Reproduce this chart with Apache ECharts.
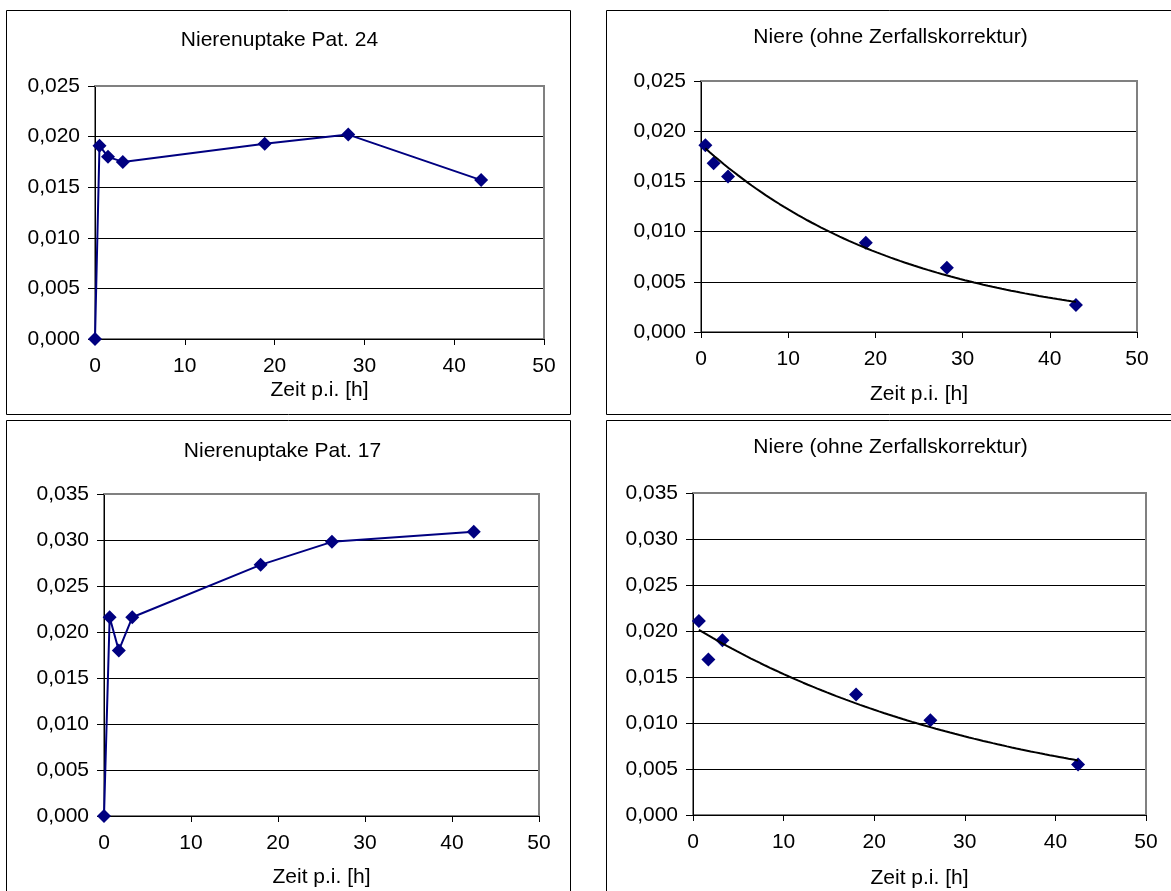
<!DOCTYPE html>
<html>
<head>
<meta charset="utf-8">
<title>Nierenuptake</title>
<script src="https://cdn.jsdelivr.net/npm/echarts@6/dist/echarts.min.js"></script>
<style>
  html, body { margin: 0; padding: 0; background: #fff; }
  #chart { width: 1171px; height: 891px; }
</style>
</head>
<body>
<div id="chart"></div>
<script>
// ---- Data -------------------------------------------------------------
// Patient 24: kidney uptake over time (decay corrected) incl. start value
const hoursPat24 = [0, 0.5, 1.45, 3.1, 18.9, 28.2, 43.0];
const uptakePat24 = [0, 0.0191, 0.0180, 0.0175, 0.0193, 0.0202, 0.0157];
// Patient 24: kidney activity without decay correction
const hoursPat24Raw = [0.5, 1.45, 3.1, 18.9, 28.2, 43.0];
const kidneyPat24Raw = [0.0186, 0.0168, 0.0155, 0.0089, 0.0064, 0.0027];

// Patient 17: kidney uptake over time (decay corrected) incl. start value
const hoursPat17 = [0, 0.65, 1.7, 3.25, 18.0, 26.2, 42.5];
const uptakePat17 = [0, 0.0216, 0.0180, 0.0216, 0.0273, 0.0298, 0.0309];
// Patient 17: kidney activity without decay correction
const hoursPat17Raw = [0.65, 1.7, 3.25, 18.0, 26.2, 42.5];
const kidneyPat17Raw = [0.0211, 0.0169, 0.0190, 0.0131, 0.0103, 0.0055];

// Axis ranges / tick steps
const xTicks = { min: 0, max: 50, step: 10 };
const yTicksPat24 = { min: 0, max: 0.025, step: 0.005 };
const yTicksPat17 = { min: 0, max: 0.035, step: 0.005 };

const titles = ['Nierenuptake Pat. 24', 'Niere (ohne Zerfallskorrektur)',
                'Nierenuptake Pat. 17', 'Niere (ohne Zerfallskorrektur)'];
const xAxisTitle = 'Zeit p.i. [h]';

// ---- Helpers ----------------------------------------------------------
const FONT_FAMILY = '"Liberation Sans", Arial, sans-serif';
const FONT_SIZE = 21;
const NAVY = '#000080';

const pairs = (xs, ys) => xs.map((x, i) => [x, ys[i]]);

// Exponential trend line y = a * e^(b x), least squares on ln(y)
function expTrend(xs, ys, steps) {
  const n = xs.length;
  const ly = ys.map(Math.log);
  const mx = xs.reduce((s, v) => s + v, 0) / n;
  const my = ly.reduce((s, v) => s + v, 0) / n;
  let sxx = 0, sxy = 0;
  for (let i = 0; i < n; i++) {
    sxx += (xs[i] - mx) * (xs[i] - mx);
    sxy += (xs[i] - mx) * (ly[i] - my);
  }
  const b = sxy / sxx;
  const a = Math.exp(my - b * mx);
  const x0 = Math.min(...xs), x1 = Math.max(...xs);
  const pts = [];
  for (let i = 0; i <= steps; i++) {
    const x = x0 + (x1 - x0) * i / steps;
    pts.push([x, a * Math.exp(b * x)]);
  }
  return pts;
}

const fmtY = v => v.toFixed(3).replace('.', ',');

// Panel layout (plot rectangles and frames)
const panels = [
  { grid: { left: 95,  top: 86,  width: 449, height: 253 }, frame: [6.5, 10.5, 564, 404],   title: [279.5, 40],  nameGap: 41, y: yTicksPat24 },
  { grid: { left: 701, top: 81,  width: 436, height: 251 }, frame: [606.5, 10.5, 580, 404], title: [890.5, 37],  nameGap: 52, y: yTicksPat24 },
  { grid: { left: 104, top: 494, width: 435, height: 322 }, frame: [6.5, 420.5, 564, 490],  title: [282.5, 451], nameGap: 51, y: yTicksPat17 },
  { grid: { left: 693, top: 493, width: 453, height: 322 }, frame: [606.5, 420.5, 580, 490], title: [890.5, 447], nameGap: 53, y: yTicksPat17 }
];

const textStyle = { color: '#000', fontFamily: FONT_FAMILY, fontSize: FONT_SIZE };

const grids = panels.map(p => Object.assign({
  show: true, backgroundColor: '#fff', borderColor: '#808080', borderWidth: 2
}, p.grid));

const xAxes = panels.map((p, i) => ({
  type: 'value', gridIndex: i,
  min: xTicks.min, max: xTicks.max, interval: xTicks.step,
  name: xAxisTitle, nameLocation: 'middle', nameGap: p.nameGap,
  nameTextStyle: textStyle,
  axisLine: { show: true, onZero: false, lineStyle: { color: '#000', width: 1 } },
  axisTick: { show: true, inside: false, length: 6, lineStyle: { color: '#000' } },
  axisLabel: Object.assign({ margin: 17 }, textStyle),
  splitLine: { show: false }
}));

const yAxes = panels.map((p, i) => ({
  type: 'value', gridIndex: i,
  min: p.y.min, max: p.y.max, interval: p.y.step,
  axisLine: { show: true, onZero: false, lineStyle: { color: '#000', width: 1 } },
  axisTick: { show: true, inside: false, length: 7, lineStyle: { color: '#000' } },
  axisLabel: Object.assign({ margin: 15, formatter: fmtY }, textStyle),
  splitLine: { show: true, lineStyle: { color: '#000', width: 1 } }
}));

const marker = { symbol: 'diamond', symbolSize: 14, itemStyle: { color: NAVY, opacity: 1 } };

const series = [
  Object.assign({
    type: 'line', xAxisIndex: 0, yAxisIndex: 0,
    data: pairs(hoursPat24, uptakePat24),
    lineStyle: { color: NAVY, width: 2 }
  }, marker),
  Object.assign({
    type: 'scatter', xAxisIndex: 1, yAxisIndex: 1, z: 2,
    data: pairs(hoursPat24Raw, kidneyPat24Raw)
  }, marker),
  {
    type: 'line', xAxisIndex: 1, yAxisIndex: 1, z: 3,
    data: expTrend(hoursPat24Raw, kidneyPat24Raw, 80),
    showSymbol: false, symbol: 'none',
    lineStyle: { color: '#000', width: 2 }
  },
  Object.assign({
    type: 'line', xAxisIndex: 2, yAxisIndex: 2,
    data: pairs(hoursPat17, uptakePat17),
    lineStyle: { color: NAVY, width: 2 }
  }, marker),
  Object.assign({
    type: 'scatter', xAxisIndex: 3, yAxisIndex: 3, z: 2,
    data: pairs(hoursPat17Raw, kidneyPat17Raw)
  }, marker),
  {
    type: 'line', xAxisIndex: 3, yAxisIndex: 3, z: 3,
    data: expTrend(hoursPat17Raw, kidneyPat17Raw, 80),
    showSymbol: false, symbol: 'none',
    lineStyle: { color: '#000', width: 2 }
  }
];

const graphics = [];
panels.forEach((p, i) => {
  const g = p.grid;
  // outer frame of each chart panel
  graphics.push({
    type: 'rect', silent: true, z: -10,
    shape: { x: p.frame[0], y: p.frame[1], width: p.frame[2], height: p.frame[3] },
    style: { fill: 'none', stroke: '#000', lineWidth: 1 }
  });
  // gray plot-area edge on top and right (drawn above the top gridline)
  graphics.push({
    type: 'polyline', silent: true, z: 50,
    shape: { points: [[g.left, g.top], [g.left + g.width, g.top], [g.left + g.width, g.top + g.height]] },
    style: { fill: 'none', stroke: '#808080', lineWidth: 2 }
  });
  graphics.push({
    type: 'text', silent: true,
    x: p.title[0], y: p.title[1],
    style: {
      text: titles[i], fill: '#000',
      font: FONT_SIZE + 'px ' + FONT_FAMILY,
      align: 'center', verticalAlign: 'middle',
      textAlign: 'center', textVerticalAlign: 'middle'
    }
  });
});

const chart = echarts.init(document.getElementById('chart'), null, { renderer: 'canvas' });
chart.setOption({
  animation: false,
  backgroundColor: '#fff',
  textStyle: { fontFamily: FONT_FAMILY },
  grid: grids,
  xAxis: xAxes,
  yAxis: yAxes,
  series: series,
  graphic: graphics
});
</script>
</body>
</html>
